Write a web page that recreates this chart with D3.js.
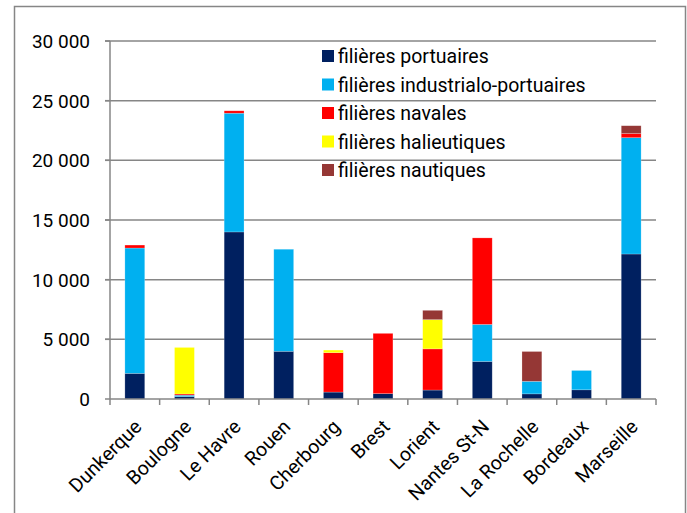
<!DOCTYPE html>
<html>
<head>
<meta charset="utf-8">
<script src="https://cdn.jsdelivr.net/npm/d3@7"></script>
<style>
  body { margin: 0; background: #fff; }
  text { font-family: Roboto, "Liberation Sans", sans-serif; fill: #000; }
</style>
</head>
<body>
<svg id="chart" width="687" height="513"></svg>
<script>
// categories and series
let ports = ["Dunkerque", "Boulogne", "Le Havre", "Rouen", "Cherbourg", "Brest", "Lorient", "Nantes St-N", "La Rochelle", "Bordeaux", "Marseille"]
let seriesNames = ["filières portuaires", "filières industrialo-portuaires", "filières navales", "filières halieutiques", "filières nautiques"]
let portuaires   = [2150,  200, 14000, 4000,  580,  450,  750, 3150,  430,  770, 12150]
let industrielles = [10500, 120,  9950, 8550,    0,    0,    0, 3100, 1050, 1620,  9750]
let navales      = [ 250,  100,   200,    0, 3300, 5050, 3450, 7250,    0,    0,   350]
let halieutiques = [   0, 3900,     0,    0,  220,    0, 2450,    0,    0,    0,     0]
let nautiques    = [   0,    0,     0,    0,    0,    0,  780,    0, 2500,    0,   650]
let yTicks = [0, 5000, 10000, 15000, 20000, 25000, 30000]
let colors = ["#002060", "#00B0F0", "#FF0000", "#FFFF00", "#953735"]

let svg = d3.select("#chart")

// plot area
let plotLeft = 110, plotRight = 656, plotTop = 41, plotBottom = 399

// rows for the stack
let data = ports.map((p, i) => ({
	port: p,
	s0: portuaires[i], s1: industrielles[i], s2: navales[i], s3: halieutiques[i], s4: nautiques[i]
}))
let stacked = d3.stack().keys(["s0", "s1", "s2", "s3", "s4"])(data)

let xscale = d3.scaleBand()
	.domain(ports)
	.range([plotLeft, plotRight])
	.paddingInner(0.6)
	.paddingOuter(0.3)

let yscale = d3.scaleLinear()
	.domain([0, 30000])
	.range([plotBottom, plotTop])

//outer frame
svg.append("rect")
	.attr("x", 14.5).attr("y", 6.5)
	.attr("width", 671).attr("height", 520)
	.attr("fill", "none")
	.attr("stroke", "#868686")
	.attr("stroke-width", 1.5)

//gridlines
svg.append("g").selectAll("line")
	.data(yTicks.filter(d => d > 0))
	.enter().append("line")
	.attr("x1", plotLeft - 5).attr("x2", plotRight)
	.attr("y1", d => yscale(d)).attr("y2", d => yscale(d))
	.attr("stroke", "#868686")
	.attr("stroke-width", 1.5)

//bars
svg.append("g").selectAll("g")
	.data(stacked)
	.enter().append("g")
	.attr("fill", (d, i) => colors[i])
	.selectAll("rect")
	.data(d => d)
	.enter().append("rect")
	.attr("x", d => xscale(d.data.port))
	.attr("width", xscale.bandwidth())
	.attr("y", d => yscale(d[1]))
	.attr("height", d => yscale(d[0]) - yscale(d[1]))
	.attr("stroke", "#ffffff")
	.attr("stroke-opacity", 0.35)
	.attr("stroke-width", 0.6)

//y axis line + ticks
svg.append("line")
	.attr("x1", plotLeft).attr("x2", plotLeft)
	.attr("y1", plotTop).attr("y2", plotBottom)
	.attr("stroke", "#868686").attr("stroke-width", 1.5)

svg.append("g").selectAll("line")
	.data(yTicks)
	.enter().append("line")
	.attr("x1", plotLeft - 5).attr("x2", plotLeft)
	.attr("y1", d => yscale(d)).attr("y2", d => yscale(d))
	.attr("stroke", "#868686").attr("stroke-width", 1.5)

svg.append("g").selectAll("text")
	.data(yTicks)
	.enter().append("text")
	.attr("x", 90)
	.attr("y", d => yscale(d))
	.attr("dy", "0.36em")
	.attr("text-anchor", "end")
	.style("font-size", "19px")
	.text(d => d3.format(",")(d).replace(",", " "))

//x axis line + ticks between categories
svg.append("line")
	.attr("x1", plotLeft).attr("x2", plotRight)
	.attr("y1", plotBottom).attr("y2", plotBottom)
	.attr("stroke", "#868686").attr("stroke-width", 1.5)

let edges = ports.map(p => xscale(p) - xscale.step() * 0.3).concat([plotRight])
svg.append("g").selectAll("line")
	.data(edges)
	.enter().append("line")
	.attr("x1", d => d).attr("x2", d => d)
	.attr("y1", plotBottom).attr("y2", plotBottom + 6)
	.attr("stroke", "#868686").attr("stroke-width", 1.5)

//x labels, rotated
svg.append("g").selectAll("text")
	.data(ports)
	.enter().append("text")
	.attr("text-anchor", "end")
	.style("font-size", "19.5px")
	.attr("transform", d => "translate(" + (xscale(d) + xscale.bandwidth() / 2 + 8) + "," + 428 + ") rotate(-45)")
	.text(d => d)

//legend
let legend = svg.append("g").selectAll("g")
	.data(seriesNames)
	.enter().append("g")
	.attr("transform", (d, i) => "translate(322," + (56 + i * 28.5) + ")")

legend.append("rect")
	.attr("x", 0).attr("y", -6)
	.attr("width", 12).attr("height", 12)
	.attr("fill", (d, i) => colors[i])

legend.append("text")
	.attr("x", 16)
	.attr("dy", "0.36em")
	.style("font-size", "19.5px")
	.text(d => d)
</script>
</body>
</html>
